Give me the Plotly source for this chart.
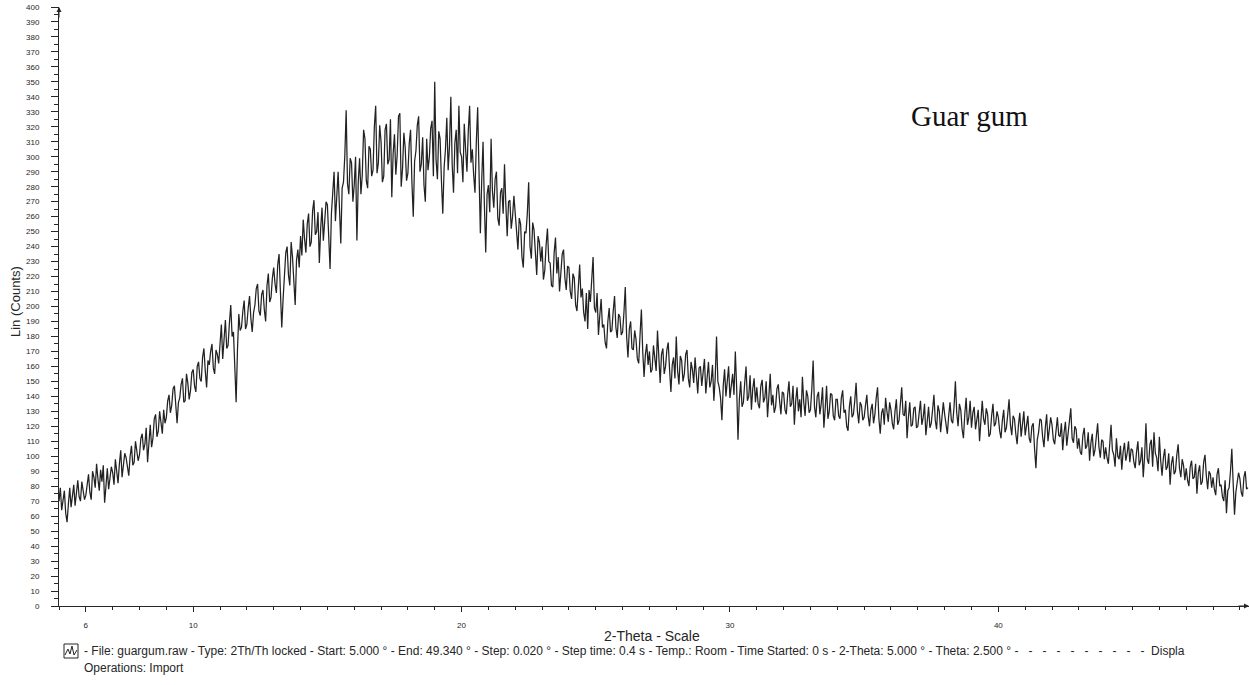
import numpy as np
import plotly.graph_objects as go

# Scan settings (degrees 2-theta); intensities below are sampled every STEP
START = 5.0
END = 49.34
STEP = 0.05

# Lin (Counts), one row per degree of 2-theta (5 ... 49)
counts = [
    70, 79, 64, 71, 77, 62, 56, 68, 79, 66, 72, 81, 67, 74, 84, 73, 70, 83, 78, 71,
    74, 82, 88, 76, 71, 90, 86, 79, 95, 85, 77, 91, 83, 94, 69, 80, 92, 78, 84, 93,
    89, 81, 98, 90, 82, 95, 104, 86, 93, 102, 99, 91, 87, 100, 107, 94, 96, 110, 103, 97,
    101, 112, 115, 104, 108, 119, 96, 110, 121, 106, 112, 125, 128, 113, 117, 130, 124, 115, 131, 122,
    126, 137, 141, 129, 134, 145, 147, 131, 122, 136, 139, 148, 152, 136, 137, 155, 149, 138, 144, 156,
    158, 147, 143, 160, 163, 152, 150, 166, 172, 157, 146, 164, 161, 170, 175, 159, 155, 171, 168, 162,
    179, 188, 165, 177, 191, 172, 174, 189, 201, 180, 183, 160, 136, 171, 195, 184, 186, 197, 204, 185,
    188, 199, 207, 192, 183, 196, 201, 212, 215, 197, 194, 208, 211, 198, 190, 214, 222, 203, 206, 219,
    226, 215, 209, 228, 235, 210, 186, 205, 222, 236, 240, 221, 214, 243, 233, 219, 201, 231, 238, 226,
    247, 234, 258, 245, 236, 255, 262, 240, 243, 264, 271, 248, 250, 263, 229, 252, 266, 244, 255, 270,
    268, 251, 225, 262, 277, 290, 257, 274, 290, 266, 242, 279, 283, 301, 331, 282, 275, 299, 296, 270,
    281, 300, 244, 283, 299, 275, 288, 318, 312, 284, 279, 307, 305, 287, 291, 320, 334, 289, 296, 321,
    310, 283, 287, 318, 322, 295, 298, 325, 273, 302, 315, 288, 301, 327, 329, 280, 292, 316, 306, 284,
    289, 309, 318, 283, 260, 297, 304, 321, 327, 290, 295, 313, 281, 270, 312, 291, 300, 319, 324, 287,
    350, 298, 285, 317, 312, 284, 262, 293, 305, 326, 291, 307, 340, 295, 276, 309, 318, 289, 334, 303,
    300, 283, 322, 305, 290, 317, 334, 296, 305, 288, 276, 310, 333, 290, 249, 284, 310, 268, 236, 275,
    281, 263, 312, 277, 266, 285, 290, 259, 254, 276, 279, 262, 295, 268, 247, 270, 271, 252, 260, 274,
    262, 245, 238, 259, 255, 233, 226, 250, 249, 262, 283, 240, 232, 256, 251, 236, 221, 247, 243, 230,
    240, 218, 224, 241, 252, 230, 229, 214, 213, 236, 246, 222, 233, 210, 220, 235, 238, 219, 211, 227,
    226, 210, 205, 222, 219, 201, 197, 215, 228, 206, 212, 196, 190, 209, 185, 211, 203, 218, 233, 199,
    196, 209, 181, 194, 205, 186, 188, 176, 172, 190, 199, 183, 184, 197, 207, 186, 179, 195, 193, 181,
    183, 196, 213, 180, 166, 185, 190, 172, 171, 184, 178, 165, 162, 181, 198, 170, 153, 168, 175, 161,
    170, 156, 158, 174, 165, 157, 184, 162, 149, 168, 172, 155, 160, 171, 176, 158, 143, 161, 166, 152,
    180, 157, 148, 167, 164, 150, 155, 168, 171, 152, 146, 163, 158, 149, 166, 154, 142, 159, 160, 147,
    156, 165, 142, 155, 163, 146, 150, 161, 137, 152, 180, 150, 146, 139, 124, 147, 158, 140, 149, 160,
    139, 148, 155, 141, 170, 146, 111, 138, 150, 133, 136, 149, 160, 137, 140, 154, 131, 145, 152, 136,
    146, 135, 132, 147, 151, 136, 139, 150, 126, 140, 155, 134, 141, 129, 133, 145, 148, 137, 128, 143,
    142, 131, 128, 141, 150, 133, 135, 147, 121, 137, 146, 130, 138, 126, 153, 136, 127, 144, 140, 129,
    131, 145, 164, 133, 126, 140, 143, 128, 135, 146, 119, 132, 147, 125, 130, 142, 141, 127, 124, 138,
    138, 127, 125, 139, 144, 129, 131, 120, 117, 133, 140, 126, 128, 137, 149, 130, 122, 136, 134, 124,
    126, 134, 141, 127, 120, 131, 135, 122, 128, 139, 146, 125, 115, 129, 132, 121, 139, 130, 123, 136,
    131, 122, 118, 130, 138, 121, 124, 135, 146, 128, 127, 137, 112, 126, 136, 120, 121, 132, 133, 119,
    120, 129, 137, 121, 126, 135, 114, 123, 133, 119, 122, 131, 141, 124, 118, 134, 130, 116, 125, 136,
    128, 119, 115, 127, 136, 124, 122, 133, 150, 129, 120, 135, 131, 118, 112, 128, 139, 121, 126, 137,
    119, 129, 133, 118, 124, 131, 110, 122, 137, 125, 121, 132, 128, 113, 115, 127, 135, 120, 122, 130,
    126, 117, 112, 124, 131, 116, 119, 128, 138, 121, 114, 127, 125, 115, 108, 121, 129, 113, 120, 130,
    114, 123, 127, 112, 109, 120, 122, 105, 92, 111, 116, 125, 124, 113, 106, 119, 128, 110, 117, 126,
    121, 111, 108, 119, 126, 114, 113, 122, 104, 116, 123, 107, 115, 124, 132, 112, 109, 120, 118, 105,
    112, 103, 101, 114, 119, 105, 107, 116, 97, 109, 115, 100, 104, 113, 122, 106, 99, 111, 110, 98,
    106, 99, 95, 108, 121, 104, 101, 93, 112, 100, 98, 107, 91, 103, 109, 97, 102, 110, 96, 105,
    104, 96, 92, 103, 110, 94, 97, 106, 86, 100, 122, 98, 95, 108, 111, 93, 116, 102, 99, 90,
    113, 97, 87, 99, 105, 91, 93, 102, 81, 95, 100, 88, 90, 101, 108, 92, 86, 98, 94, 84,
    92, 84, 80, 93, 97, 85, 86, 95, 75, 89, 94, 81, 83, 96, 101, 87, 78, 90, 88, 79,
    86, 78, 74, 88, 92, 80, 81, 73, 70, 84, 62, 77, 79, 90, 105, 82, 61, 76, 83, 89,
    85, 76, 73, 86, 90, 78, 79,
]

x_tick_vals = [6, 10, 20, 30, 40]
x_tick_text = ["6", "10", "20", "30", "40"]
y_tick_vals = list(range(0, 401, 10))
y_tick_text = [str(v) for v in y_tick_vals]

sample_name = "Guar gum"
x_title = "2-Theta - Scale"
y_title = "Lin (Counts)"
caption = ("- File: guargum.raw - Type: 2Th/Th locked - Start: 5.000 \u00b0 - End: 49.340 \u00b0 "
           "- Step: 0.020 \u00b0 - Step time: 0.4 s - Temp.: Room - Time Started: 0 s "
           "- 2-Theta: 5.000 \u00b0 - Theta: 2.500 \u00b0"
           + " -\u00a0\u00a0" * 10 + "Displa")
caption2 = "Operations: Import"

two_theta = START + STEP * np.arange(len(counts))

W, H = 1249, 685
ML, MR, MT, MB = 59, 0, 7, 79
PW, PH = W - ML - MR, H - MT - MB


def px(xp):
    return (xp - ML) / PW


def py(yp):
    return (H - MB - yp) / PH


SANS = "Arial, Liberation Sans, sans-serif"
INK = "#262626"

fig = go.Figure()
fig.add_trace(go.Scatter(
    x=two_theta, y=counts, mode="lines",
    line=dict(color="#222222", width=1.25),
    hoverinfo="skip", showlegend=False,
))

fig.update_layout(
    width=W, height=H,
    margin=dict(l=ML, r=MR, t=MT, b=MB, pad=0),
    paper_bgcolor="white", plot_bgcolor="white",
    xaxis=dict(
        range=[START, END], showgrid=False, zeroline=False,
        showline=True, linecolor=INK, linewidth=1,
        tickmode="array", tickvals=x_tick_vals, ticktext=x_tick_text,
        ticks="outside", ticklen=5, tickcolor=INK, tickwidth=1,
        ticklabelstandoff=6,
        tickfont=dict(family=SANS, size=8, color=INK),
        minor=dict(tickmode="linear", tick0=5, dtick=1, ticks="outside",
                   ticklen=3, tickcolor=INK, tickwidth=1),
    ),
    yaxis=dict(
        range=[0, 400], showgrid=False, zeroline=False,
        showline=True, linecolor=INK, linewidth=1,
        tickmode="array", tickvals=y_tick_vals, ticktext=y_tick_text,
        ticks="outside", ticklen=7, tickcolor=INK, tickwidth=1,
        ticklabelstandoff=10,
        tickfont=dict(family=SANS, size=8, color=INK),
        minor=dict(tickmode="linear", tick0=5, dtick=10, ticks="outside",
                   ticklen=4, tickcolor=INK, tickwidth=1),
    ),
    showlegend=False,
)

annotations = [
    dict(text=sample_name, x=px(970), y=py(116), xref="paper", yref="paper",
         showarrow=False, xanchor="center", yanchor="middle",
         font=dict(family="Times New Roman, Liberation Serif, serif", size=29, color="#111111")),
    dict(text=x_title, x=px(652), y=py(636), xref="paper", yref="paper",
         showarrow=False, xanchor="center", yanchor="middle",
         font=dict(family=SANS, size=14, color=INK)),
    dict(text=y_title, x=px(15), y=py(302), xref="paper", yref="paper",
         showarrow=False, xanchor="center", yanchor="middle", textangle=-90,
         font=dict(family=SANS, size=13, color=INK)),
    dict(text=caption, x=px(82), y=py(651), xref="paper", yref="paper",
         showarrow=False, xanchor="left", yanchor="middle",
         font=dict(family=SANS, size=12, color=INK)),
    dict(text=caption2, x=px(82), y=py(668), xref="paper", yref="paper",
         showarrow=False, xanchor="left", yanchor="middle",
         font=dict(family=SANS, size=12, color=INK)),
    # axis arrowheads
    dict(x=START, y=400, xref="x", yref="y", ax=0, ay=12, text="",
         showarrow=True, arrowhead=2, arrowsize=1, arrowwidth=1, arrowcolor=INK),
    dict(x=END, y=0, xref="x", yref="y", ax=-12, ay=0, text="",
         showarrow=True, arrowhead=2, arrowsize=1, arrowwidth=1, arrowcolor=INK),
]
fig.update_layout(annotations=annotations)

# small pattern icon in front of the caption
fig.add_shape(type="rect", xref="paper", yref="paper",
              x0=px(64), x1=px(78), y0=py(658), y1=py(644),
              line=dict(color=INK, width=1))
icon_pts = [(65, 655), (68, 649), (70, 654), (72, 646), (74, 655), (77, 650)]
icon_path = "M " + " L ".join(f"{px(a):.5f},{py(b):.5f}" for a, b in icon_pts)
fig.add_shape(type="path", xref="paper", yref="paper", path=icon_path,
              line=dict(color=INK, width=1))

fig.write_html("out.html")
